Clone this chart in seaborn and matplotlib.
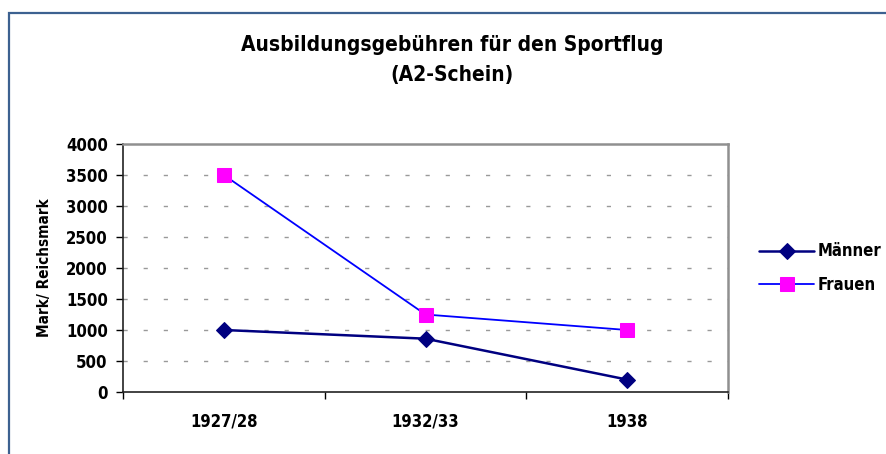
import numpy as np
import pandas as pd
import matplotlib
matplotlib.use("Agg")
import matplotlib.pyplot as plt
import seaborn as sns
from matplotlib.patches import Rectangle

# data
years = ["1927/28", "1932/33", "1938"]
maenner = [1000, 860, 200]
frauen = [3500, 1250, 1000]
yticks = [0, 500, 1000, 1500, 2000, 2500, 3000, 3500, 4000]

sns.set_style("white")
plt.rcParams['font.family'] = ['DejaVu Sans']
plt.rcParams['font.stretch'] = 'condensed'
plt.rcParams['font.weight'] = 'bold'
plt.rcParams['text.color'] = 'black'
plt.rcParams['xtick.color'] = 'black'
plt.rcParams['ytick.color'] = 'black'
plt.rcParams['axes.labelcolor'] = 'black'

fig = plt.figure(figsize=(8.86, 4.54), dpi=100)
ax = fig.add_axes([123/886, 1 - 392/454, 605/886, 248/454])

df = pd.DataFrame({"Jahr": years, "Männer": maenner, "Frauen": frauen})

sns.lineplot(data=df, x="Jahr", y="Männer", ax=ax, color="#000080", lw=1.8,
             marker="D", markersize=8, markeredgecolor="#000080", label="Männer", sort=False)
sns.lineplot(data=df, x="Jahr", y="Frauen", ax=ax, color="#0000FF", lw=1.3,
             marker="s", markersize=10, markerfacecolor="#FF00FF",
             markeredgecolor="#FF00FF", label="Frauen", sort=False)

ax.set_xlim(-0.5, 2.5)
ax.set_ylim(0, 4000)
ax.set_yticks(yticks)
ax.set_yticklabels([str(v) for v in yticks], fontsize=12, fontweight='bold')

# category boundaries as ticks, labels in the middle
ax.set_xticks([-0.5, 0.5, 1.5, 2.5])
ax.set_xticklabels([])
ax.set_xticks([0, 1, 2], minor=True)
ax.set_xticklabels(years, minor=True, fontsize=12, fontweight='bold')
ax.tick_params(axis='x', which='major', direction='out', length=5, width=1, color='black', bottom=True)
ax.tick_params(axis='x', which='minor', length=0, pad=15)
ax.tick_params(axis='y', direction='out', length=5, width=1, color='black', left=True, pad=6)

for v in yticks[1:-1]:
    ax.axhline(v, color="#999999", lw=1, dashes=(3, 11.5), zorder=0)

ax.set_xlabel("")
ax.set_ylabel("Mark/ Reichsmark", fontsize=11, fontweight='bold', labelpad=10)

for s in ['top', 'right']:
    ax.spines[s].set_color("#909090")
    ax.spines[s].set_linewidth(1.8)
for s in ['left', 'bottom']:
    ax.spines[s].set_color("#222222")
    ax.spines[s].set_linewidth(1.2)

fig.text(452/886, 1 - 45/454, "Ausbildungsgebühren für den Sportflug",
         ha='center', va='center', fontsize=15, fontweight='bold')
fig.text(452/886, 1 - 75/454, "(A2-Schein)",
         ha='center', va='center', fontsize=15, fontweight='bold')

ax.legend(loc='center left', bbox_to_anchor=(744/886, 1 - 268/454),
          bbox_transform=fig.transFigure, frameon=False,
          handlelength=3.3, handletextpad=0.2, labelspacing=0.9,
          prop={'weight': 'bold', 'size': 12})

# outer chart frame
fig.patches.append(Rectangle((8.5/886, -0.2), 1.2, 1 - 13/454 + 0.2,
                             transform=fig.transFigure, fill=False,
                             edgecolor="#3C6190", lw=1.6))

fig.savefig("out.png", dpi=100)
